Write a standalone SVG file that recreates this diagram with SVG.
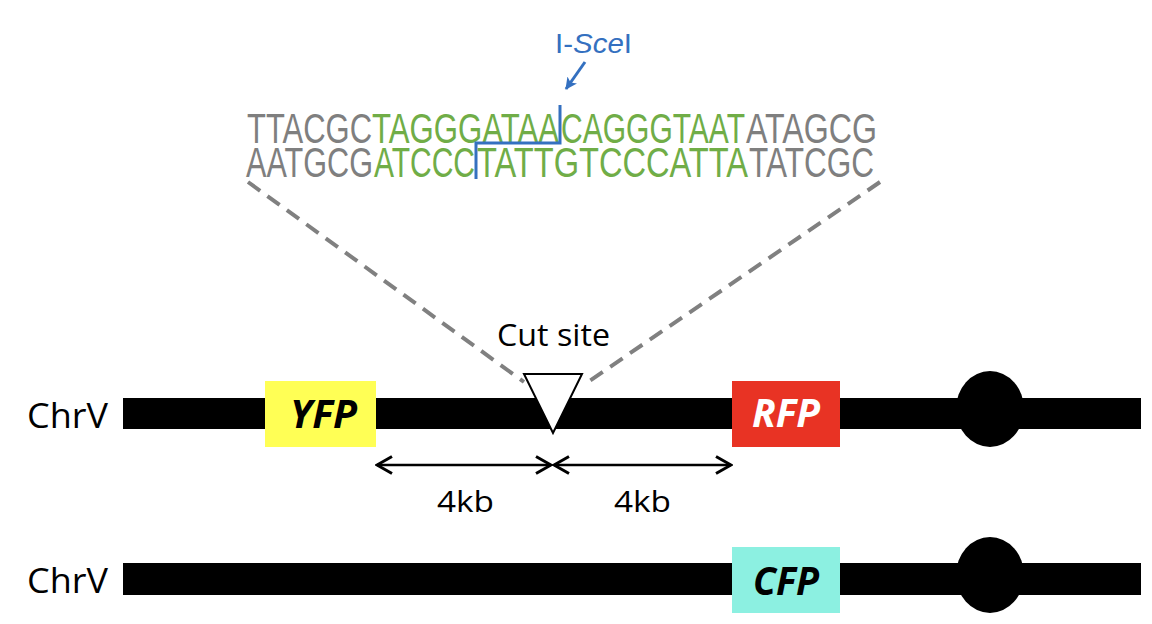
<svg xmlns="http://www.w3.org/2000/svg" width="1152" height="624" viewBox="0 0 1152 624">
<style>
  .dna { font-family: "Liberation Sans", Arial, sans-serif; font-size: 42px; }
  .g { fill: #7F7F7F; }
  .gr { fill: #70AD47; }
  .lbl { font-family: "Open Sans", "Liberation Sans", sans-serif; fill: #000; }
  .gene { font-family: "Open Sans", "Liberation Sans", sans-serif; font-weight: bold; font-style: italic; font-size: 39px; }
  .bar { fill: #000; }
  .dash { stroke: #808080; stroke-width: 4; stroke-dasharray: 15 9; fill: none; }
  .dim { stroke: #000; stroke-width: 2.5; fill: none; }
  .blue { stroke: #3470C0; stroke-width: 3; fill: none; }
</style>
<defs>
  <marker id="chev" viewBox="0 0 20 20" refX="18" refY="10" markerWidth="20" markerHeight="20" markerUnits="userSpaceOnUse" orient="auto-start-reverse">
    <path d="M3,1.5 L18,10 L3,18.5" fill="none" stroke="#000" stroke-width="3"/>
  </marker>
  <marker id="bhead" viewBox="0 0 12 12" refX="11" refY="6" markerWidth="12" markerHeight="12" markerUnits="userSpaceOnUse" orient="auto">
    <path d="M0,0 L12,6 L0,12 L3,6 Z" fill="#3470C0"/>
  </marker>
</defs>
<rect width="1152" height="624" fill="#fff"/>

<g id="connectors">
  <path class="dash" d="M248,182 L524,382"/>
  <path class="dash" d="M880,182 L588,382"/>
  <path class="dim" d="M377,465 L551,465" marker-start="url(#chev)" marker-end="url(#chev)"/>
  <path class="dim" d="M554,465 L731,465" marker-start="url(#chev)" marker-end="url(#chev)"/>
  <path d="M585,62 L566,89" stroke="#3470C0" stroke-width="3" fill="none" marker-end="url(#bhead)"/>
</g>

<g id="sequence">
  <text class="dna g" x="247" y="143" textLength="125" lengthAdjust="spacingAndGlyphs">TTACGC</text>
  <text class="dna gr" x="372" y="143" textLength="187" lengthAdjust="spacingAndGlyphs">TAGGGATAA</text>
  <text class="dna gr" x="561" y="143" textLength="184" lengthAdjust="spacingAndGlyphs">CAGGGTAAT</text>
  <text class="dna g" x="746" y="143" textLength="131" lengthAdjust="spacingAndGlyphs">ATAGCG</text>
  <text class="dna g" x="246" y="177" textLength="127" lengthAdjust="spacingAndGlyphs">AATGCG</text>
  <text class="dna gr" x="374" y="177" textLength="101" lengthAdjust="spacingAndGlyphs">ATCCC</text>
  <text class="dna gr" x="477" y="177" textLength="271" lengthAdjust="spacingAndGlyphs">TATTGTCCCATTA</text>
  <text class="dna g" x="749" y="177" textLength="125" lengthAdjust="spacingAndGlyphs">TATCGC</text>
  <path class="blue" d="M560,105 L560,143 L476,143 L476,179"/>
</g>

<g id="iscei">
  <text x="555" y="53" font-family="Liberation Sans, Arial, sans-serif" font-size="28" fill="#3470C0" textLength="77" lengthAdjust="spacingAndGlyphs">I-<tspan font-style="italic">Sce</tspan>I</text>
</g>

<g id="chr1">
  <text class="lbl" x="27" y="428" font-size="35" textLength="81" lengthAdjust="spacingAndGlyphs">ChrV</text>
  <rect class="bar" x="123" y="398" width="1018" height="31"/>
</g>

<g id="yfp">
  <rect x="265" y="381" width="111" height="66" fill="#FFFF55"/>
  <text class="gene" x="290" y="428" fill="#000" textLength="67" lengthAdjust="spacingAndGlyphs">YFP</text>
</g>

<g id="rfp">
  <rect x="732" y="381" width="108" height="66" fill="#E83324"/>
  <text class="gene" x="752" y="427" fill="#fff" textLength="68" lengthAdjust="spacingAndGlyphs">RFP</text>
</g>

<g id="cut-site">
  <text class="lbl" x="497" y="346" font-size="31" textLength="113" lengthAdjust="spacingAndGlyphs">Cut site</text>
  <polygon points="524,374 582,374 553,433" fill="#fff" stroke="#000" stroke-width="2" stroke-linejoin="miter"/>
</g>

<g id="centromere1">
  <ellipse cx="990" cy="409" rx="34" ry="38" fill="#000"/>
</g>

<g id="dist-left">
  <text class="lbl" x="437" y="512" font-size="30" textLength="57" lengthAdjust="spacingAndGlyphs">4kb</text>
</g>
<g id="dist-right">
  <text class="lbl" x="614" y="512" font-size="30" textLength="57" lengthAdjust="spacingAndGlyphs">4kb</text>
</g>

<g id="chr2">
  <text class="lbl" x="27" y="593" font-size="35" textLength="81" lengthAdjust="spacingAndGlyphs">ChrV</text>
  <rect class="bar" x="123" y="563" width="1018" height="32"/>
</g>

<g id="cfp">
  <rect x="732" y="547" width="108" height="66" fill="#8CF0E1"/>
  <text class="gene" x="753" y="595" fill="#000" textLength="66" lengthAdjust="spacingAndGlyphs">CFP</text>
</g>

<g id="centromere2">
  <ellipse cx="990" cy="575" rx="34" ry="38" fill="#000"/>
</g>
</svg>
